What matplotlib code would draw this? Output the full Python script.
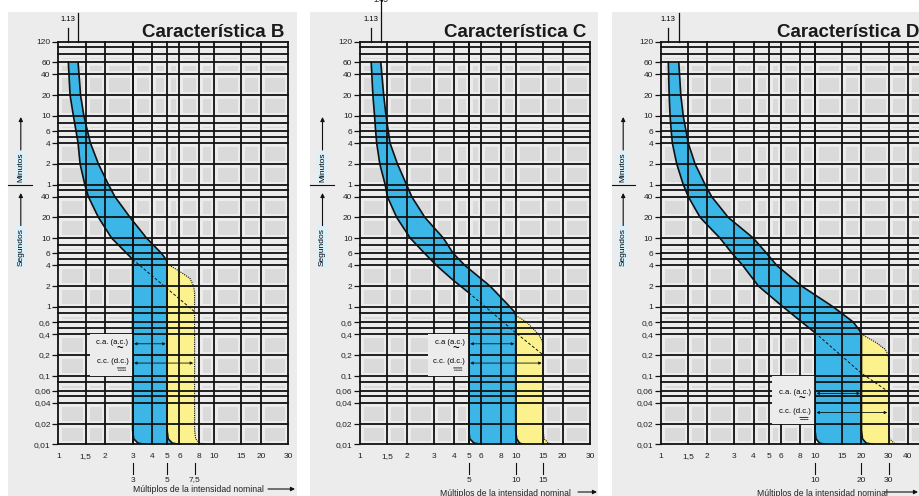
import numpy as np
import matplotlib.pyplot as plt
from matplotlib.patches import Rectangle
from matplotlib.lines import Line2D
from matplotlib.transforms import blended_transform_factory, offset_copy
from matplotlib.ticker import NullLocator

plt.rcParams['font.family'] = ['Liberation Sans', 'DejaVu Sans']

# eje Y en segundos: 120 min ... 1 min, luego 40 s ... 0,01 s
y_ticks = [7200, 3600, 2400, 1200, 600, 360, 240, 120, 60, 40, 20, 10, 6, 4, 2, 1,
           0.6, 0.4, 0.2, 0.1, 0.06, 0.04, 0.02, 0.01]
y_labels = ['120', '60', '40', '20', '10', '6', '4', '2', '1', '40', '20', '10', '6', '4',
            '2', '1', '0,6', '0,4', '0,2', '0,1', '0,06', '0,04', '0,02', '0,01']
y_extra = [6000, 4800, 480, 300, 50, 8, 5, 0.8, 0.5, 0.08, 0.05]

x_ticks_bc = [1, 1.5, 2, 3, 4, 5, 6, 8, 10, 15, 20, 30]
x_ticks_d = [1, 1.5, 2, 3, 4, 5, 6, 8, 10, 15, 20, 30, 40, 50]

# --- Caracteristica B ---
b_low_x = [1.16, 1.19, 1.25, 1.30, 1.34, 1.38, 1.48, 1.56, 1.81, 2.20, 2.75, 3.0, 3.0, 3.05, 3.25, 3.6]
b_low_t = [3600, 1200, 600, 360, 240, 120, 60, 40, 20, 10, 6, 4.9, 0.016, 0.012, 0.0104, 0.01]
b_up_x = [1.34, 1.39, 1.46, 1.54, 1.61, 1.81, 2.10, 2.31, 2.89, 3.69, 4.60, 4.95, 5.0, 5.0, 5.08, 5.4, 6.05]
b_up_t = [3600, 1200, 600, 360, 240, 120, 60, 40, 20, 10, 6, 4.8, 4.2, 0.016, 0.012, 0.0104, 0.01]
b_dc_x = [5.0, 6.0, 7.0, 7.4, 7.5, 7.5, 7.62, 8.1, 9.0]
b_dc_t = [4.2, 3.3, 2.6, 2.0, 1.6, 0.016, 0.012, 0.0104, 0.01]
b_dash_x = [3.0, 7.5]
b_dash_t = [4.9, 0.85]
b_marks = [3, 5, 7.5]

# --- Caracteristica C ---
c_low_x = [1.18, 1.21, 1.24, 1.26, 1.28, 1.34, 1.45, 1.50, 1.72, 2.10, 2.60, 3.10, 4.0, 5.0, 5.0, 5.07, 5.4, 6.05]
c_low_t = [3600, 1200, 600, 360, 240, 120, 60, 40, 20, 10, 6, 4, 2.4, 1.6, 0.016, 0.012, 0.0104, 0.01]
c_up_x = [1.36, 1.42, 1.47, 1.52, 1.56, 1.74, 1.99, 2.15, 2.61, 3.43, 3.97, 4.72, 6.85, 9.18, 9.8, 10.0,
          10.0, 10.15, 10.6, 11.2]
c_up_t = [3600, 1200, 600, 360, 240, 120, 60, 40, 20, 10, 6, 4, 2, 1, 0.85, 0.75,
          0.016, 0.012, 0.0104, 0.01]
c_dc_x = [10.0, 11.75, 14.0, 14.8, 15.0, 15.0, 15.25, 16.2, 17.4]
c_dc_t = [0.75, 0.6, 0.4, 0.32, 0.26, 0.016, 0.012, 0.0104, 0.01]
c_dash_x = [5.0, 10.0, 15.0]
c_dash_t = [1.6, 0.42, 0.2]
c_marks = [5, 10, 15]

# --- Caracteristica D ---
d_low_x = [1.12, 1.135, 1.15, 1.17, 1.19, 1.27, 1.40, 1.51, 1.80, 2.42, 2.90, 3.40, 4.30, 6.20, 10.0,
           10.0, 10.15, 10.7, 11.6]
d_low_t = [3600, 1200, 600, 360, 240, 120, 60, 40, 20, 10, 6, 4, 2, 1, 0.42,
           0.016, 0.012, 0.0104, 0.01]
d_up_x = [1.31, 1.35, 1.40, 1.46, 1.51, 1.67, 1.94, 2.14, 2.74, 3.98, 4.86, 5.65, 8.2, 13.1, 17.7, 19.5, 20.0,
          20.0, 20.3, 21.5, 23.9]
d_up_t = [3600, 1200, 600, 360, 240, 120, 60, 40, 20, 10, 6, 4, 2, 1, 0.6, 0.45, 0.4,
          0.016, 0.012, 0.0104, 0.01]
d_dc_x = [20.0, 25.0, 28.5, 29.8, 30.0, 30.0, 30.5, 32.5, 35.5]
d_dc_t = [0.4, 0.3, 0.24, 0.2, 0.17, 0.016, 0.012, 0.0104, 0.01]
d_dash_x = [10.0, 20.0, 30.0]
d_dash_t = [0.42, 0.108, 0.058]
d_marks = [10, 20, 30]

W, H = 920, 496
AX_TOP, AX_BOT = 41.7, 444.3
AXH = AX_BOT - AX_TOP
BG = '#ececec'
CELL = '#dadada'
INK = '#111111'
BLUE = '#3cb6e6'
YELLOW = '#fbf28e'

panels = [
    dict(title='Característica B', panel=(8, 297), axes=(58.3, 288.3), xmax=30, xt=x_ticks_bc,
         low=(b_low_x, b_low_t), up=(b_up_x, b_up_t), dc=(b_dc_x, b_dc_t), dash=(b_dash_x, b_dash_t),
         marks=b_marks, ac_txt='c.a. (a.c.)', ac_t=0.29, dc_t=0.152, box=(1.6, 0.1, 0.4),
         reach=28.7, xlab=(198, 268, 295, 490)),
    dict(title='Característica C', panel=(310, 598), axes=(360, 590), xmax=30, xt=x_ticks_bc,
         low=(c_low_x, c_low_t), up=(c_up_x, c_up_t), dc=(c_dc_x, c_dc_t), dash=(c_dash_x, c_dash_t),
         marks=c_marks, ac_txt='c.a (a.c.)', ac_t=0.29, dc_t=0.152, box=(2.75, 0.1, 0.4),
         reach=44, xlab=(505, 578, 597, 493)),
    dict(title='Característica D', panel=(612, 935), axes=(660.7, 922.9), xmax=50, xt=x_ticks_d,
         low=(d_low_x, d_low_t), up=(d_up_x, d_up_t), dc=(d_dc_x, d_dc_t), dash=(d_dash_x, d_dash_t),
         marks=d_marks, ac_txt='c.a. (a.c.)', ac_t=0.055, dc_t=0.029, box=(5.3, 0.02, 0.1),
         reach=28.7, xlab=(822, 885, 918, 493)),
]


def fmt(v):
    return f'{v:g}'.replace('.', ',')


def dc_symbol(ax, x, y, dx, dy):
    # simbolo de corriente continua: raya llena sobre raya punteada
    for off, ls in ((0, '-'), (-1.6, (0, (1, 1)))):
        base = offset_copy(ax.transData, fig=ax.figure, x=dx - 3, y=dy + off, units='points')
        ax.annotate('', xy=(x, y), xycoords=base, xytext=(6, 0), textcoords='offset points',
                    arrowprops=dict(arrowstyle='-', lw=0.6, ls=ls, color=INK, shrinkA=0, shrinkB=0),
                    zorder=6)


fig = plt.figure(figsize=(W / 100, H / 100), dpi=100)
fig.patch.set_facecolor('white')

for p in panels:
    pl, pr = p['panel']
    fig.add_artist(Rectangle((pl / W, 0), (pr - pl) / W, 1 - 12 / H, transform=fig.transFigure,
                             facecolor=BG, edgecolor='none', zorder=0))
    axl, axr = p['axes']
    axw = axr - axl
    ax = fig.add_axes([axl / W, 1 - AX_BOT / H, axw / W, AXH / H])
    ax.set_xscale('log')
    ax.set_yscale('log')
    ax.set_xlim(1, p['xmax'])
    ax.set_ylim(0.01, 7200)
    ax.set_facecolor(CELL)
    for s in ax.spines.values():
        s.set_visible(False)

    grid_y = y_ticks + y_extra
    for y in grid_y:
        ax.axhline(y, color=BG, lw=5, zorder=0.5)
    for x in p['xt']:
        ax.axvline(x, color=BG, lw=5, zorder=0.5)

    lx, lt = map(np.array, p['low'])
    ux, ut = map(np.array, p['up'])
    dx, dt = map(np.array, p['dc'])
    ax.fill(np.r_[lx, ux[::-1]], np.r_[lt, ut[::-1]], color=BLUE, lw=0, zorder=1)
    k = int(np.where((ux == dx[0]) & (ut == dt[0]))[0][0])
    ax.fill(np.r_[ux[k:], dx[::-1]], np.r_[ut[k:], dt[::-1]], color=YELLOW, lw=0, zorder=1)

    for y in grid_y:
        ax.axhline(y, color=INK, lw=1.3, zorder=2, clip_on=False)
    for x in p['xt']:
        ax.axvline(x, color=INK, lw=1.3, zorder=2, clip_on=False)

    ax.plot(lx, lt, color=INK, lw=1.2, zorder=3)
    ax.plot(ux, ut, color=INK, lw=1.2, zorder=3)
    ax.plot(dx, dt, color=INK, lw=0.8, ls=(0, (1, 1)), zorder=3)
    ax.plot(*p['dash'], color=INK, lw=0.7, ls=(0, (3, 2)), zorder=3)

    # recuadro de las leyendas c.a. / c.c.
    i1, i2, i3 = p['marks']
    bx0, by0, by1 = p['box']
    ax.add_patch(Rectangle((bx0, by0), i1 - bx0, by1 - by0, facecolor=BG, edgecolor='none', zorder=4))
    ax.axvline(i1, color=INK, lw=1.3, zorder=4.5)
    ax.annotate(p['ac_txt'], xy=(i1, p['ac_t']), xytext=(-3, 1), textcoords='offset points',
                ha='right', va='center', fontsize=5.5, zorder=6)
    ax.annotate('~', xy=(i1, p['ac_t']), xytext=(-9.5, -4), textcoords='offset points',
                ha='center', va='center', fontsize=8, fontweight='bold', zorder=6)
    ax.annotate('c.c. (d.c.)', xy=(i1, p['dc_t']), xytext=(-3, 1), textcoords='offset points',
                ha='right', va='center', fontsize=5.5, zorder=6)
    dc_symbol(ax, i1, p['dc_t'], -8, -3.5)
    arr = dict(arrowstyle='<|-|>', lw=0.6, mutation_scale=4, shrinkA=1, shrinkB=1, color=INK)
    ax.annotate('', xy=(i2, p['ac_t']), xytext=(i1, p['ac_t']), arrowprops=arr, zorder=6)
    ax.annotate('', xy=(i3, p['dc_t']), xytext=(i1, p['dc_t']), arrowprops=arr, zorder=6)

    # ejes y etiquetas
    ax.set_yticks(y_ticks, y_labels)
    ax.set_xticks(p['xt'], [fmt(v) for v in p['xt']])
    ax.xaxis.set_minor_locator(NullLocator())
    ax.yaxis.set_minor_locator(NullLocator())
    ax.tick_params(axis='y', length=4, width=0.9, pad=1.5, labelsize=6, color=INK, labelcolor='#222222')
    ax.tick_params(axis='x', length=0, pad=6, labelsize=6, labelcolor='#222222')

    ax.text(1 - 4 / axw, 1 + 4.4 / AXH, p['title'], transform=ax.transAxes, ha='right',
            va='baseline', fontsize=13.5, fontweight='bold', color='#1a1a1a')

    trans = blended_transform_factory(ax.transData, ax.transAxes)
    ax.plot([lx[0], lx[0]], [1, 1 + 13.7 / AXH], transform=trans, clip_on=False, color=INK, lw=0.9)
    ax.plot([ux[0], ux[0]], [1, 1 + p['reach'] / AXH], transform=trans, clip_on=False, color=INK, lw=0.9)
    ax.text(lx[0], 1 + 21.7 / AXH, '1.13', transform=trans, ha='center', va='center', fontsize=5.5)
    if p['reach'] > 40:
        ax.text(ux[0], 1 + 37.7 / AXH, '1.45', transform=trans, ha='center', va='bottom', fontsize=5.5)

    for v in p['marks']:
        ax.plot([v, v], [-18.7 / AXH, -29.7 / AXH], transform=trans, clip_on=False, color=INK, lw=0.8)
        ax.text(v, -35.7 / AXH, fmt(v), transform=trans, ha='center', va='center', fontsize=6,
                color='#222222')

    # Minutos / Segundos
    cx = axl - 37.5
    fig.text(cx / W, 1 - 167 / H, 'Minutos', rotation=90, ha='center', va='center', fontsize=6,
             bbox=dict(boxstyle='square,pad=0.2', facecolor='#dcf0fa', edgecolor='none'))
    fig.text(cx / W, 1 - 247 / H, 'Segundos', rotation=90, ha='center', va='center', fontsize=6,
             bbox=dict(boxstyle='square,pad=0.2', facecolor='#dcf0fa', edgecolor='none'))
    up = dict(arrowstyle='-|>', lw=0.8, mutation_scale=6, color=INK, shrinkA=0, shrinkB=0)
    fig.add_artist(Line2D([pl / W, (axl - 26) / W], [1 - 185 / H] * 2, color=INK, lw=0.8))
    ax.annotate('', xy=(cx, H - 117), xytext=(cx, H - 150), xycoords='figure pixels',
                textcoords='figure pixels', arrowprops=up, annotation_clip=False)
    ax.annotate('', xy=(cx, H - 193), xytext=(cx, H - 228), xycoords='figure pixels',
                textcoords='figure pixels', arrowprops=up, annotation_clip=False)

    tx, a0, a1, ty = p['xlab']
    fig.text(tx / W, 1 - ty / H, 'Múltiplos de la intensidad nominal', ha='center', va='center',
             fontsize=6.2, color='#222222')
    ax.annotate('', xy=(a1, H - ty + 1), xytext=(a0, H - ty + 1), xycoords='figure pixels',
                textcoords='figure pixels', arrowprops=up, annotation_clip=False)

fig.savefig('out.png', dpi=100, facecolor='white')
